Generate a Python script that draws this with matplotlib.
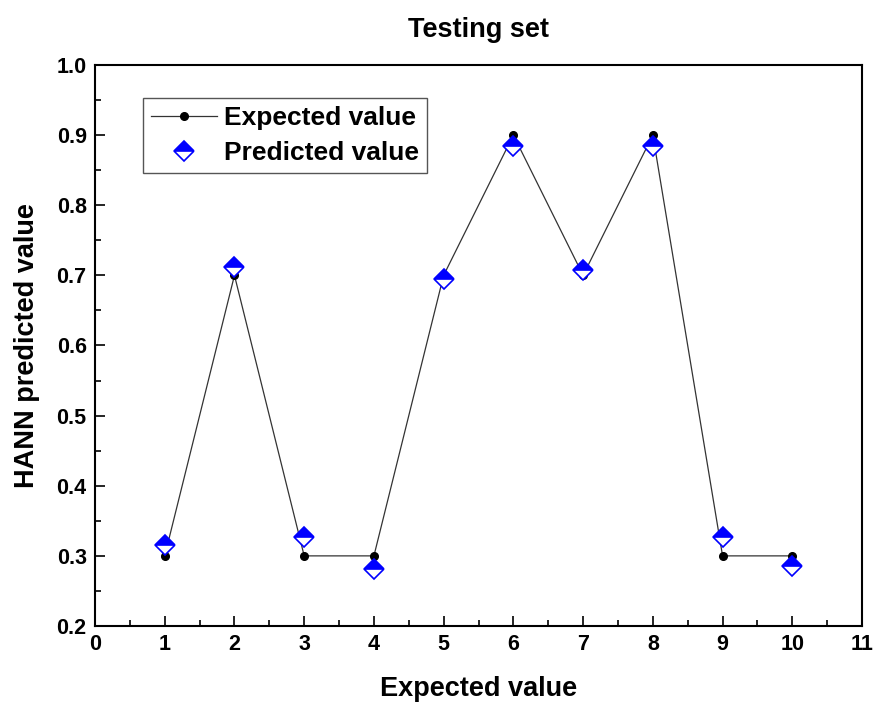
import matplotlib
matplotlib.use("Agg")
import matplotlib.pyplot as plt
from matplotlib.ticker import MultipleLocator, FormatStrFormatter

plt.rcParams['font.family'] = ['Liberation Sans', 'DejaVu Sans']
plt.rcParams['font.weight'] = 'bold'

x = [1, 2, 3, 4, 5, 6, 7, 8, 9, 10]
expected = [0.3, 0.7, 0.3, 0.3, 0.7, 0.9, 0.7, 0.9, 0.3, 0.3]
predicted = [0.316, 0.712, 0.327, 0.282, 0.695, 0.884, 0.708, 0.884, 0.327, 0.285]

fig = plt.figure(figsize=(8.74, 7.06), dpi=100)
ax = fig.add_axes([0.1087, 0.1133, 0.8776, 0.7947])

ax.plot(x, expected, color='#333333', linewidth=0.9, marker='o', markersize=5.5,
        markerfacecolor='black', markeredgecolor='black', label='Expected value', zorder=2)
ax.plot(x, predicted, linestyle='none', marker='D', markersize=10, fillstyle='top',
        markerfacecolor='#0000ff', markerfacecoloralt='white', markeredgecolor='#0000ff',
        markeredgewidth=1.2, label='Predicted value', zorder=3)

ax.set_xlim(0, 11)
ax.set_ylim(0.2, 1.0)
ax.xaxis.set_major_locator(MultipleLocator(1))
ax.xaxis.set_minor_locator(MultipleLocator(0.5))
ax.yaxis.set_major_locator(MultipleLocator(0.1))
ax.yaxis.set_minor_locator(MultipleLocator(0.05))
ax.yaxis.set_major_formatter(FormatStrFormatter('%.1f'))
ax.tick_params(which='major', direction='in', length=7, width=1.2, labelsize=15.5, pad=6)
ax.tick_params(which='minor', direction='in', length=4, width=1.2)
ax.tick_params(top=False, right=False, which='both')
for lab in ax.get_xticklabels() + ax.get_yticklabels():
    lab.set_fontweight('bold')
for s in ax.spines.values():
    s.set_linewidth(1.5)

ax.set_xlabel('Expected value', fontsize=19.5, fontweight='bold', labelpad=15)
ax.set_ylabel('HANN predicted value', fontsize=19.5, fontweight='bold', labelpad=12)
ax.set_title('Testing set', fontsize=19.5, fontweight='bold', pad=20)

leg = ax.legend(loc='upper left', bbox_to_anchor=(0.063, 0.941), fontsize=19,
                frameon=True, fancybox=False, edgecolor='#555555', framealpha=1,
                handlelength=2.5, borderpad=0.3, labelspacing=0.42, handletextpad=0.25,
                borderaxespad=0)
leg.get_frame().set_linewidth(1.0)
for t in leg.get_texts():
    t.set_fontweight('bold')

fig.savefig('out.png', dpi=100)
